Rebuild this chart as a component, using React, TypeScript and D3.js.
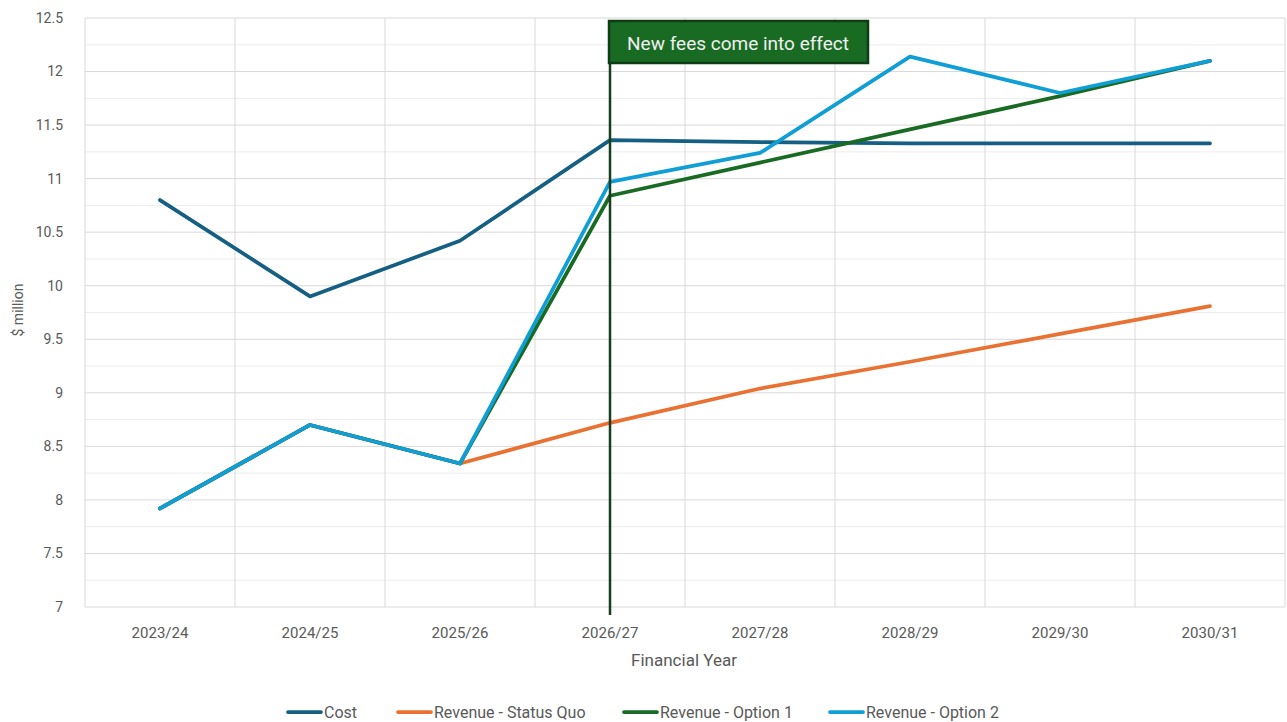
import React from 'react';
import * as d3 from 'd3';

const years = ['2023/24', '2024/25', '2025/26', '2026/27', '2027/28', '2028/29', '2029/30', '2030/31'];
const cost = [10.8, 9.9, 10.42, 11.36, 11.34, 11.33, 11.33, 11.33];
const statusQuo = [7.92, 8.7, 8.34, 8.72, 9.04, 9.29, 9.55, 9.81];
const option1 = [7.92, 8.7, 8.34, 10.84, 11.15, 11.46, 11.77, 12.1];
const option2 = [7.92, 8.7, 8.34, 10.97, 11.24, 12.14, 11.8, 12.1];
const yTicks = [7, 7.5, 8, 8.5, 9, 9.5, 10, 10.5, 11, 11.5, 12, 12.5];

const series = [
  { name: 'Cost', values: cost, color: '#156082' },
  { name: 'Revenue - Status Quo', values: statusQuo, color: '#E97132' },
  { name: 'Revenue - Option 1', values: option1, color: '#196B24' },
  { name: 'Revenue - Option 2', values: option2, color: '#0F9ED5' },
];

const W = 1287;
const H = 722;
const margin = { top: 18, right: 2, bottom: 115, left: 85 };
const font = 'Roboto, "Liberation Sans", sans-serif';

export default function App() {
  const x = d3.scaleBand<string>()
    .domain(years)
    .range([margin.left, W - margin.right]);
  const y = d3.scaleLinear()
    .domain([7, 12.5])
    .range([H - margin.bottom, margin.top]);

  const cx = (i: number) => (x(years[i]) as number) + x.bandwidth() / 2;
  const line = d3.line<number>()
    .x((_, i) => cx(i))
    .y(d => y(d));

  const minorTicks = d3.range(7.25, 12.5, 0.5);
  const bands = years.map(yr => x(yr) as number).concat([W - margin.right]);

  // legend layout
  const legendY = 712;
  const legendX = [286, 396, 622, 828];

  const markIdx = 3;
  const markX = cx(markIdx);

  return (
    <div style={{ position: 'fixed', left: 0, top: 0 }}>
      <svg width={W} height={H} style={{ display: 'block', background: '#fff' }}>
        {/* minor gridlines */}
        {minorTicks.map(t => (
          <line key={'m' + t} x1={margin.left} x2={W - margin.right} y1={y(t)} y2={y(t)}
            stroke="#ececec" strokeWidth={1} />
        ))}
        {/* major gridlines */}
        {yTicks.map(t => (
          <line key={'g' + t} x1={margin.left} x2={W - margin.right} y1={y(t)} y2={y(t)}
            stroke="#d9d9d9" strokeWidth={1} />
        ))}
        {bands.map((b, i) => (
          <line key={'v' + i} x1={b} x2={b} y1={margin.top} y2={H - margin.bottom}
            stroke="#d9d9d9" strokeWidth={1} />
        ))}

        {/* y tick labels */}
        {yTicks.map(t => (
          <text key={'yt' + t} x={63} y={y(t)} dy="0.35em" textAnchor="end"
            fontSize={14} fill="#595959" fontFamily={font}>{t}</text>
        ))}
        {/* x tick labels */}
        {years.map((yr, i) => (
          <text key={yr} x={cx(i)} y={638} textAnchor="middle"
            fontSize={15} fill="#595959" fontFamily={font}>{yr}</text>
        ))}

        <text x={684} y={666} textAnchor="middle" fontSize={17} fill="#595959" fontFamily={font}>
          Financial Year
        </text>
        <text transform={`translate(23, 310) rotate(-90)`} textAnchor="middle"
          fontSize={14} fill="#595959" fontFamily={font}>$ million</text>

        {/* series */}
        {series.map(s => (
          <path key={s.name} d={line(s.values) || ''} fill="none" stroke={s.color}
            strokeWidth={3.75} strokeLinejoin="round" strokeLinecap="round" />
        ))}

        {/* annotation */}
        <line x1={markX} x2={markX} y1={margin.top + 40} y2={H - margin.bottom + 8}
          stroke="#173d1c" strokeWidth={2.5} />
        <rect x={markX - 1} y={21} width={259} height={42} fill="#196B24"
          stroke="#0e3d15" strokeWidth={2.5} />
        <text x={markX + 128} y={43} dy="0.35em" textAnchor="middle" fontSize={19}
          fill="#f0f0f0" fontFamily={font}>New fees come into effect</text>

        {/* legend */}
        {series.map((s, i) => (
          <g key={'l' + s.name} transform={`translate(${legendX[i]}, ${legendY})`}>
            <line x1={2} x2={35} y1={0} y2={0} stroke={s.color} strokeWidth={3.75} strokeLinecap="round" />
            <text x={38} y={0} dy="0.35em" fontSize={16} fill="#595959" fontFamily={font}>{s.name}</text>
          </g>
        ))}
      </svg>
    </div>
  );
}
